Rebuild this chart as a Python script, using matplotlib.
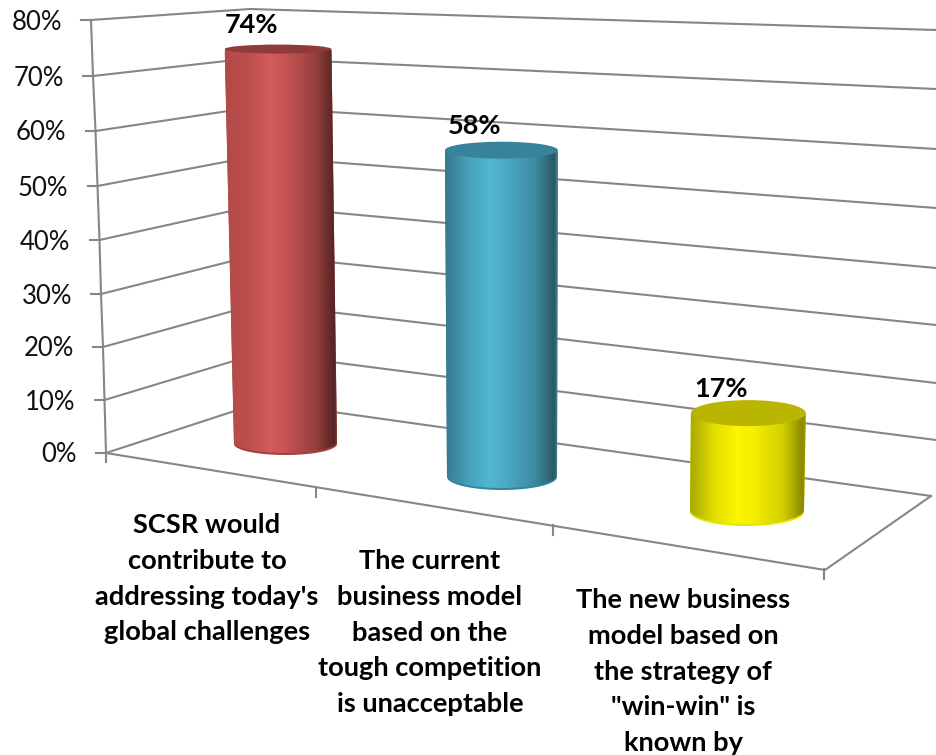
import numpy as np
import matplotlib
matplotlib.use("Agg")
import matplotlib.pyplot as plt
from matplotlib.colors import LinearSegmentedColormap
from matplotlib.patches import Polygon, Ellipse

plt.rcParams["font.family"] = ["Lato", "DejaVu Sans"]

# data
categories = [
    "SCSR would\ncontribute to\naddressing today's\nglobal challenges",
    "The current\nbusiness model\nbased on the\ntough competition\nis unacceptable",
    "The new business\nmodel based on\nthe strategy of\n\"win-win\" is\nknown by",
]
values = [74, 58, 17]
tick_values = [0, 10, 20, 30, 40, 50, 60, 70, 80]

# 3d look of the excel chart, everything in pixels
front_x = [106, 104.5, 103, 101, 99.5, 97.5, 95.5, 93, 91]
front_y = [453, 400, 347, 294, 240, 186, 131, 76, 20]
right_y = [496, 440, 383, 325, 268, 208, 149, 89, 30]
corner_x0, corner_x80 = 262, 250
corner_y0, corner_y80 = 402, 9

base_x = [285.5, 502, 747]
base_y = [442, 475, 510]
px_per_pct = [5.31, 5.6, 5.7]
lean = [-0.1, -0.01, 0.08]
half_w = [51.5, 55, 57]
ry_base = [11, 13, 14]
ry_drop = [0.088, 0.078, 0.06]
stops = [
    ["#b24a48", "#bd4f4d", "#d25c5a", "#c25452", "#96403e", "#552423", "#8a3a38"],
    ["#37788e", "#46a0b8", "#52b8d2", "#4aa8c2", "#3d8aa0", "#2c5864", "#3d8aa0"],
    ["#a8a800", "#e0dc00", "#fcf600", "#f4ee00", "#d4d000", "#8c8a00", "#9c9a00"],
]
top_colors = ["#8f3b3a", "#37839b", "#b9b500"]
rim_colors = ["#a5403e", "#35859e", "#e8e400"]

axis_color = "#868686"
label_pos = [(207, 513), (430, 549), (683, 588)]

fig = plt.figure(figsize=(9.36, 7.55), dpi=100)
ax = fig.add_axes([0, 0, 1, 1])
ax.axis("off")

# walls
for i, t in enumerate(tick_values):
    cx = corner_x0 + (corner_x80 - corner_x0) * t / 80
    cy = corner_y0 + (corner_y80 - corner_y0) * t / 80
    rx = 931 if t == 0 else 936
    ax.plot([front_x[i], cx, rx], [front_y[i], cy, right_y[i]], color=axis_color, lw=1.5, zorder=1)
    ax.plot([front_x[i] - 10, front_x[i]], [front_y[i], front_y[i]], color=axis_color, lw=1.5, zorder=1)
    ax.text(front_x[i] - 29, front_y[i] + 2, f"{t}%", ha="right", va="center", fontsize=18.5, color="#111111")

# axis and floor
ax.plot(front_x, front_y, color=axis_color, lw=1.5, zorder=1)
ax.plot([106, 106], [453, 462], color=axis_color, lw=1.5, zorder=1)
ax.plot([106, 825, 931], [453, 570, 496], color=axis_color, lw=1.5, zorder=1)
for x0, y0 in [(316, 487), (553, 525), (824, 569)]:
    ax.plot([x0, x0], [y0, y0 + 10], color=axis_color, lw=1.5, zorder=1)

# cylinders
theta = np.linspace(0, np.pi, 60)
for i, v in enumerate(values):
    top_x = base_x[i] + lean[i] * v
    top_y = base_y[i] - px_per_pct[i] * v
    top_hw = half_w[i] + 0.025 * v
    ry_top = ry_base[i] - ry_drop[i] * v

    arc_x = base_x[i] + half_w[i] * np.cos(theta)
    arc_y = base_y[i] + ry_base[i] * np.sin(theta)
    xs = np.r_[top_x - top_hw, top_x + top_hw, arc_x]
    ys = np.r_[top_y, top_y, arc_y]

    # darker rim under the body
    ax.add_patch(Polygon(np.c_[xs, ys + 2], closed=True, fc=rim_colors[i], ec="none", zorder=2))

    body = Polygon(np.c_[xs, ys], closed=True, fc="none", ec="none", zorder=3)
    ax.add_patch(body)
    cmap = LinearSegmentedColormap.from_list(
        f"bar{i}", list(zip([0, 0.2, 0.4, 0.55, 0.8, 0.97, 1], stops[i])))
    im = ax.imshow(np.linspace(0, 1, 256)[None, :], cmap=cmap, aspect="auto", zorder=3,
                   extent=[min(xs), max(xs), max(ys), min(ys)])
    im.set_clip_path(body)

    ax.add_patch(Ellipse((top_x, top_y), 2 * top_hw, 2 * ry_top, fc=top_colors[i], ec="none", zorder=4))
    ax.text(top_x - 27, top_y - 24, f"{v}%", ha="center", va="center", fontsize=19.5, fontweight="bold", color="black", zorder=5)

# category labels
for (x, y), c in zip(label_pos, categories):
    ax.text(x, y, c, ha="center", va="top", fontsize=19.6, fontweight="bold", color="black",
            linespacing=1.59, zorder=5)

ax.set_xlim(0, 936)
ax.set_ylim(755, 0)
fig.savefig("out.png", dpi=100)
